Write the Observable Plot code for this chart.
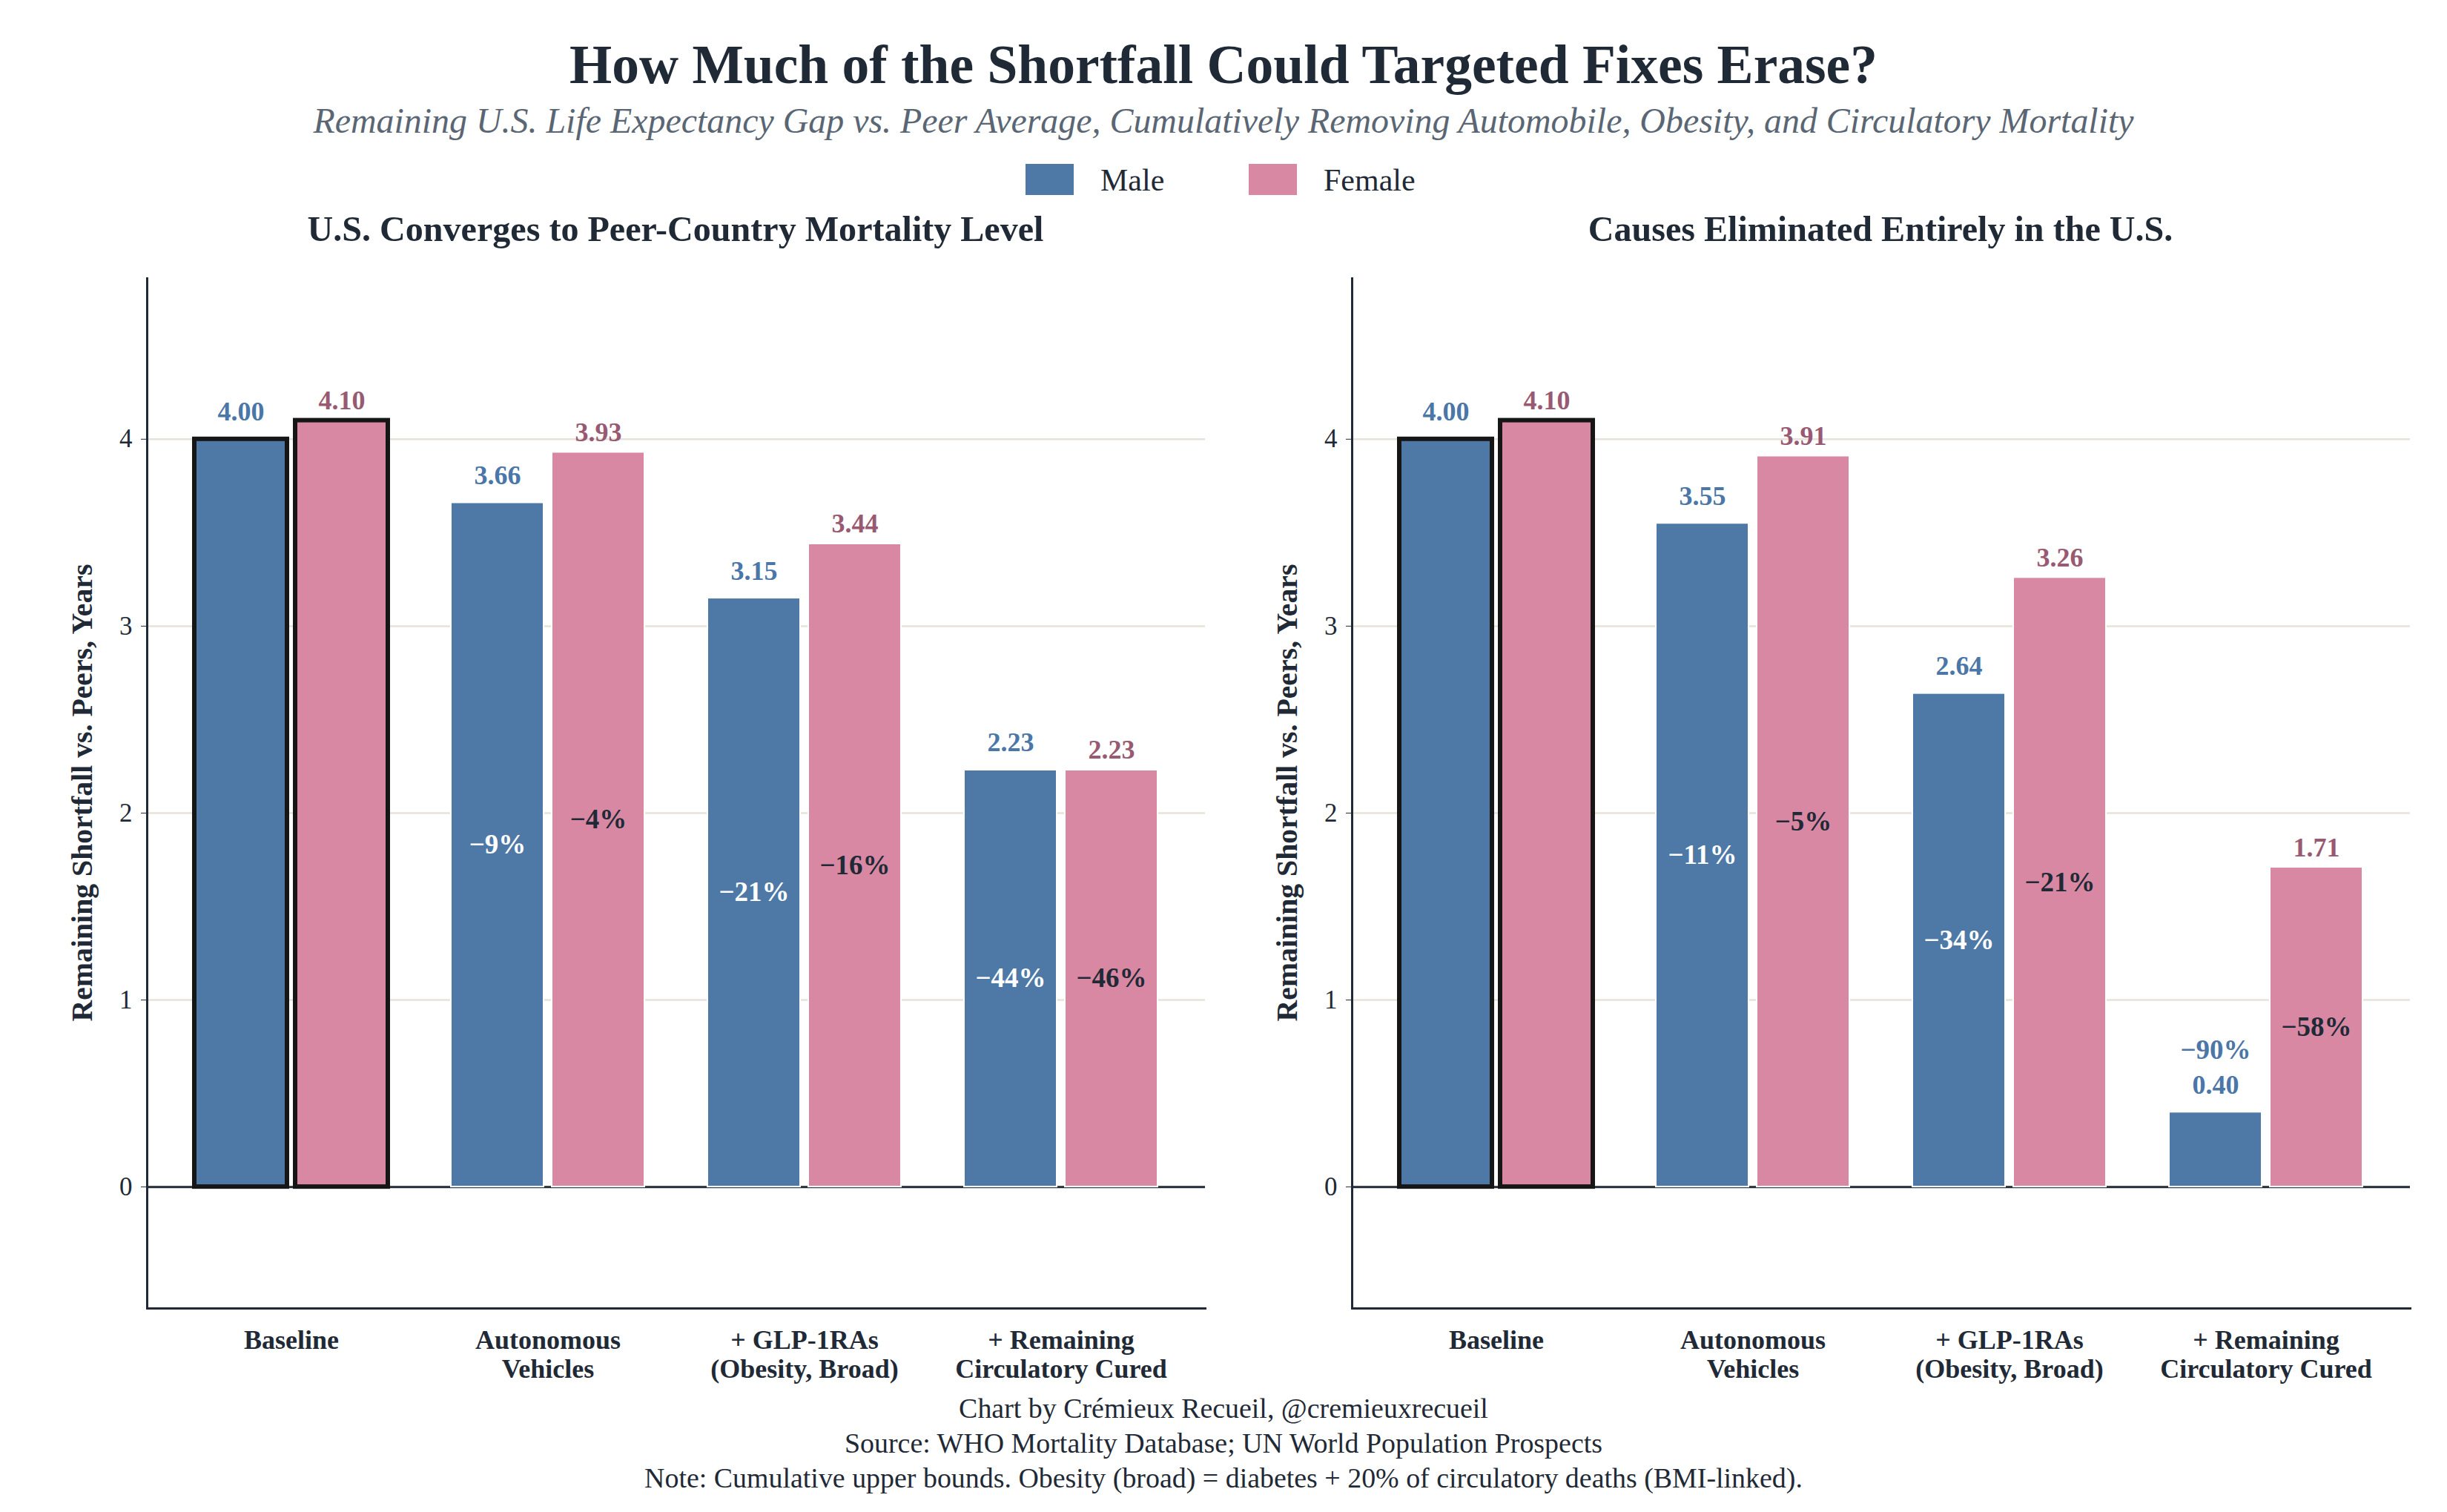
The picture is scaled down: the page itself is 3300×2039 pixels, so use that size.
<!DOCTYPE html>
<html><head><meta charset="utf-8">
<script src="https://cdn.jsdelivr.net/npm/d3@7"></script>
<script src="https://cdn.jsdelivr.net/npm/@observablehq/plot@0.6"></script>
<style>
body{margin:0;background:#fff;}
#root{position:relative;width:3300px;height:2039px;overflow:hidden;font-family:"Liberation Serif",serif;color:#1f2a36;background:#fff;}
#root svg{position:absolute;}
</style></head><body><div id="root"></div>
<script>
// ---- data ----
const categories = ["Baseline", "Autonomous Vehicles", "+ GLP-1RAs (Obesity, Broad)", "+ Remaining Circulatory Cured"];
const categoryLabels = ["Baseline", "Autonomous\nVehicles", "+ GLP-1RAs\n(Obesity, Broad)", "+ Remaining\nCirculatory Cured"];
const sexes = ["Male", "Female"];
const convergeMale = [4.00, 3.66, 3.15, 2.23];
const convergeFemale = [4.10, 3.93, 3.44, 2.23];
const convergeMalePct = [null, "−9%", "−21%", "−44%"];
const convergeFemalePct = [null, "−4%", "−16%", "−46%"];
const eliminateMale = [4.00, 3.55, 2.64, 0.40];
const eliminateFemale = [4.10, 3.91, 3.26, 1.71];
const eliminateMalePct = [null, "−11%", "−34%", "−90%"];
const eliminateFemalePct = [null, "−5%", "−21%", "−58%"];
const yTicks = [0, 1, 2, 3, 4];
const gridTicks = [1, 2, 3, 4];
const yDomain = [-0.65, 4.86];
const titleText = "How Much of the Shortfall Could Targeted Fixes Erase?";
const subtitleText = "Remaining U.S. Life Expectancy Gap vs. Peer Average, Cumulatively Removing Automobile, Obesity, and Circulatory Mortality";
const panelTitles = ["U.S. Converges to Peer-Country Mortality Level", "Causes Eliminated Entirely in the U.S."];
const yLabel = "Remaining Shortfall vs. Peers, Years";
const captionLines = [
  "Chart by Crémieux Recueil, @cremieuxrecueil",
  "Source: WHO Mortality Database; UN World Population Prospects",
  "Note: Cumulative upper bounds. Obesity (broad) = diabetes + 20% of circulatory deaths (BMI-linked)."
];

// ---- style ----
const FONT = '"Liberation Serif", serif';
const INK = "#1f2a36";
const barColors = {Male: "#4e79a7", Female: "#d988a4"};
const valueColors = {Male: "#4a76a8", Female: "#985a72"};
const pctColors = {Male: "#ffffff", Female: "#1f2a36"};

const root = document.getElementById("root");

function place(text, o) {
  const s = document.createElement("span");
  s.textContent = text;
  Object.assign(s.style, {
    position: "absolute", whiteSpace: "nowrap", fontFamily: FONT,
    fontWeight: o.weight || "normal", fontStyle: o.style || "normal",
    color: o.color || INK, lineHeight: "1", top: o.y + "px", left: o.x + "px",
    fontSize: (o.size || 40) + "px"
  });
  root.appendChild(s);
  let fs = o.size || 40;
  if (o.width) {
    const w = s.getBoundingClientRect().width;
    fs = fs * o.width / w;
    s.style.fontSize = fs + "px";
  }
  const tx = o.anchor === "start" ? "0" : o.anchor === "end" ? "-100%" : "-50%";
  s.style.transform = `translate(${tx}, -50%)` + (o.rotate ? ` rotate(${o.rotate}deg)` : "");
  return fs;
}

// titles
place(titleText, {x: 1650, y: 88, width: 1764, weight: "bold", size: 70});
place(subtitleText, {x: 1650, y: 163, width: 2456, style: "italic", size: 44, color: "#5a6673"});

// legend
sexes.forEach((s, i) => {
  const sw = document.createElement("div");
  Object.assign(sw.style, {position: "absolute", left: (1383 + i * 301) + "px", top: "221px", width: "65px", height: "42px", background: barColors[s]});
  root.appendChild(sw);
  place(s, {x: 1484 + i * 301, y: 243, anchor: "start", size: 42});
});

// panel titles
const ptSize = place(panelTitles[0], {x: 911, y: 309, width: 993, weight: "bold", size: 42});
place(panelTitles[1], {x: 2536, y: 309, weight: "bold", size: ptSize});

// caption
const capSize = place(captionLines[2], {x: 1650, y: 1994, width: 1562, size: 34});
place(captionLines[0], {x: 1650, y: 1900, size: capSize});
place(captionLines[1], {x: 1650, y: 1947, size: capSize});

function panel(male, female, malePct, femalePct, left) {
  const rows = categories.flatMap((c, i) => [
    {category: c, sex: "Male", value: male[i], pct: malePct[i], base: i === 0},
    {category: c, sex: "Female", value: female[i], pct: femalePct[i], base: i === 0}
  ]);
  const inset = 136, shift = 68;
  const side = s => s === "Male" ? {insetRight: inset} : {insetLeft: inset};
  const off = s => s === "Male" ? -shift : shift;
  const marks = [
    Plot.gridY(gridTicks, {stroke: "#e7e2da", strokeOpacity: 1, strokeWidth: 2.5}),
    Plot.ruleY([0], {stroke: INK, strokeWidth: 3})
  ];
  sexes.forEach(s => {
    const D = rows.filter(d => d.sex === s);
    marks.push(Plot.barY(D.filter(d => !d.base), {x: "category", y: "value", fill: barColors[s], stroke: "#ffffff", strokeWidth: 2, ...side(s)}));
    marks.push(Plot.barY(D.filter(d => d.base), {x: "category", y: "value", fill: barColors[s], stroke: "#161616", strokeWidth: 6, ...side(s)}));
    marks.push(Plot.text(D, {x: "category", y: "value", text: d => d.value.toFixed(2), dx: off(s), dy: s === "Male" ? -25 : -15, lineAnchor: "bottom", fill: valueColors[s], fontSize: 36, fontWeight: "bold"}));
    marks.push(Plot.text(D.filter(d => d.pct && d.value >= 0.8), {x: "category", y: d => d.value / 2, text: "pct", dx: off(s), lineAnchor: "middle", fill: pctColors[s], fontSize: 37, fontWeight: "bold"}));
    marks.push(Plot.text(D.filter(d => d.pct && d.value < 0.8), {x: "category", y: "value", text: "pct", dx: off(s), dy: -72, lineAnchor: "bottom", fill: valueColors[s], fontSize: 37, fontWeight: "bold"}));
  });
  marks.push(Plot.axisY(yTicks, {tickSize: 8, tickPadding: 12, fontSize: 35, label: null, stroke: INK, tickFormat: d => String(d)}));
  marks.push(Plot.axisX({tickSize: 0, tickPadding: 26, fontSize: 36, fontWeight: "bold", lineHeight: 1.1, lineAnchor: "top", label: null, tickFormat: d => categoryLabels[categories.indexOf(d)]}));
  marks.push(Plot.frame({anchor: "left", stroke: INK, strokeWidth: 3}));
  marks.push(Plot.frame({anchor: "bottom", stroke: INK, strokeWidth: 3}));
  const svg = Plot.plot({
    width: 1650, height: 1550,
    marginLeft: 198, marginRight: 25, marginTop: 45, marginBottom: 116,
    x: {domain: categories, paddingInner: 0.246, paddingOuter: 0.182},
    y: {domain: yDomain},
    style: {fontFamily: FONT, color: INK, background: "transparent", overflow: "visible"},
    marks
  });
  svg.style.left = left + "px";
  svg.style.top = "330px";
  root.appendChild(svg);
}

panel(convergeMale, convergeFemale, convergeMalePct, convergeFemalePct, 0);
panel(eliminateMale, eliminateFemale, eliminateMalePct, eliminateFemalePct, 1625);

// y-axis labels
const ylSize = place(yLabel, {x: 112, y: 1069, width: 617, weight: "bold", size: 32, rotate: -90});
place(yLabel, {x: 1737, y: 1069, weight: "bold", size: ylSize, rotate: -90});
</script></body></html>
